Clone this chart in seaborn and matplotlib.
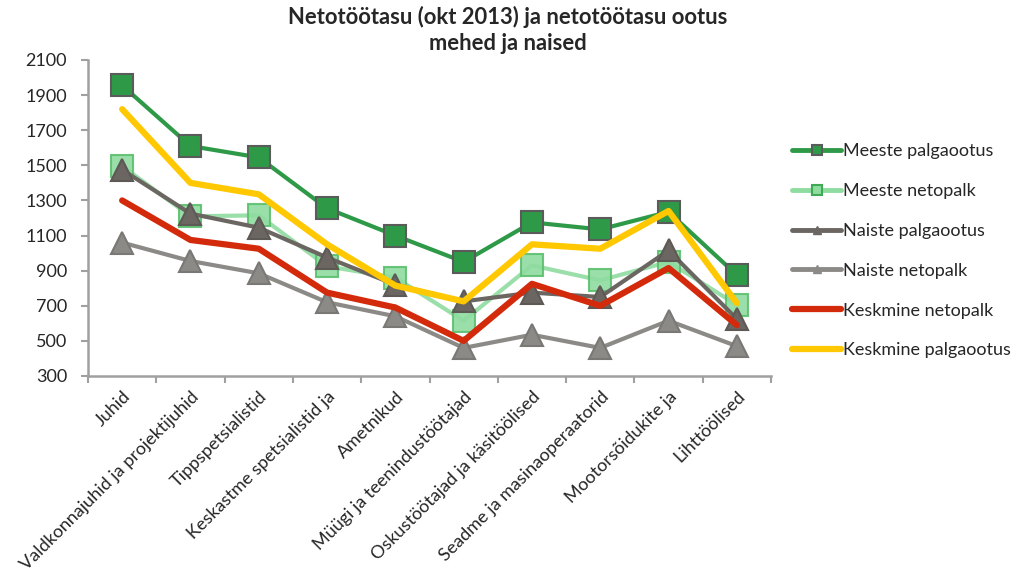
import matplotlib
matplotlib.use("Agg")
import matplotlib.pyplot as plt
from matplotlib.lines import Line2D
import seaborn as sns
import pandas as pd
import numpy as np

categories = ["Juhid", "Valdkonnajuhid ja projektijuhid", "Tippspetsialistid",
              "Keskastme spetsialistid ja", "Ametnikud", "Müügi ja teenindustöötajad",
              "Oskustöötajad ja käsitöölised", "Seadme ja masinaoperaatorid",
              "Mootorsõidukite ja", "Lihttöölised"]

meeste_palgaootus = [1955, 1610, 1545, 1255, 1100, 950, 1175, 1135, 1235, 875]
meeste_netopalk = [1495, 1210, 1215, 925, 860, 615, 930, 845, 950, 705]
naiste_palgaootus = [1475, 1225, 1145, 975, 820, 725, 775, 750, 1015, 625]
naiste_netopalk = [1060, 955, 885, 720, 640, 460, 535, 460, 615, 470]
keskmine_netopalk = [1300, 1075, 1025, 775, 690, 500, 825, 700, 915, 590]
keskmine_palgaootus = [1820, 1400, 1335, 1050, 815, 725, 1050, 1025, 1240, 715]

title = "Netotöötasu (okt 2013) ja netotöötasu ootus\nmehed ja naised"
yticks = list(range(300, 2101, 200))

sns.set_theme(style="white")
plt.rcParams["font.family"] = ["Lato", "DejaVu Sans"]

fig = plt.figure(figsize=(10.16, 5.76), dpi=100)
ax = fig.add_axes([88/1016, 1-376/576, 683/1016, 316/576])

x = np.arange(len(categories))

series = [
    # name, values, color, lw, marker, mfc, mec, ms, alpha
    ("Naiste netopalk", naiste_netopalk, "#8c8a86", 3.0, "^", "#8c8a86", "#7a7875", 16, 1.0),
    ("Meeste netopalk", meeste_netopalk, "#8fdca0", 3.0, "s", "#8fdca0", "#5cbf6e", 16, 0.9),
    ("Naiste palgaootus", naiste_palgaootus, "#6b6661", 3.0, "^", "#6b6661", "#5d5955", 16, 1.0),
    ("Keskmine netopalk", keskmine_netopalk, "#d42a0c", 4.5, None, None, None, 0, 1.0),
    ("Meeste palgaootus", meeste_palgaootus, "#2e9a48", 3.0, "s", "#2e9a48", "#5b5b5b", 16, 1.0),
    ("Keskmine palgaootus", keskmine_palgaootus, "#ffc800", 4.5, None, None, None, 0, 1.0),
]

for name, vals, color, lw, marker, mfc, mec, ms, alpha in series:
    df = pd.DataFrame({"x": x, "y": vals})
    kw = {}
    if marker:
        kw = dict(marker=marker, markersize=ms, markerfacecolor=mfc,
                  markeredgecolor=mec, markeredgewidth=1.5)
    sns.lineplot(data=df, x="x", y="y", ax=ax, color=color, linewidth=lw,
                 alpha=alpha, solid_capstyle="round", **kw)

ax.set_xlim(-0.5, len(categories) - 0.5)
ax.set_ylim(300, 2100)
ax.set_yticks(yticks)
ax.set_yticklabels([str(t) for t in yticks], fontsize=13)
ax.set_xticks(x)
ax.set_xticklabels(categories, rotation=45, ha="right", rotation_mode="anchor", fontsize=13)
ax.set_xticks(np.arange(-0.5, len(categories)), minor=True)
ax.tick_params(axis="x", which="major", length=0, pad=9)
ax.tick_params(axis="x", which="minor", length=5, width=1.5, color="#a0a0a0", direction="out", bottom=True)
ax.tick_params(axis="y", length=5, width=1.5, color="#a0a0a0", direction="out", left=True, pad=10)
ax.set_xlabel("")
ax.set_ylabel("")
for s in ["top", "right"]:
    ax.spines[s].set_visible(False)
for s in ["left", "bottom"]:
    ax.spines[s].set_color("#a0a0a0")
    ax.spines[s].set_linewidth(1.8)

fig.suptitle(title, fontsize=15.8, fontweight="bold", y=0.99, x=0.5, linespacing=1.3)

handles = [
    Line2D([], [], color="#2e9a48", lw=3.5, marker="s", ms=7, mfc="#2e9a48", mec="#5b5b5b", mew=1.5),
    Line2D([], [], color="#8fdca0", lw=3.5, marker="s", ms=7, mfc="#8fdca0", mec="#3fa956", mew=1.5),
    Line2D([], [], color="#6b6661", lw=3.5, marker="^", ms=6, mfc="#6b6661", mec="#6b6661"),
    Line2D([], [], color="#8c8a86", lw=3.5, marker="^", ms=6, mfc="#8c8a86", mec="#8c8a86"),
    Line2D([], [], color="#d42a0c", lw=4.5),
    Line2D([], [], color="#ffc800", lw=4.5),
]
labels = ["Meeste palgaootus", "Meeste netopalk", "Naiste palgaootus",
          "Naiste netopalk", "Keskmine netopalk", "Keskmine palgaootus"]
fig.legend(handles, labels, loc="upper left", bbox_to_anchor=(785/1016, 1-136/576),
           frameon=False, fontsize=13, handlelength=2.7, handletextpad=0.1,
           labelspacing=1.32, borderaxespad=0)

fig.savefig("out.png", dpi=100)
